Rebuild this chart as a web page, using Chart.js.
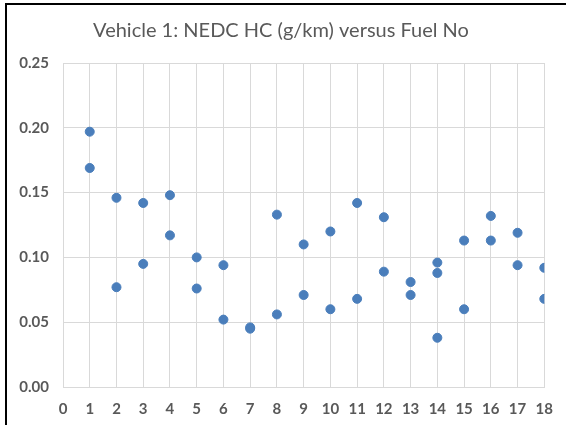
<!DOCTYPE html>
<html>
<head>
<meta charset="utf-8">
<script src="https://cdn.jsdelivr.net/npm/chart.js@4/dist/chart.umd.min.js"></script>
<style>
  html, body { margin: 0; padding: 0; background: #fff; }
  .frame {
    position: absolute; left: 5px; top: 3px; width: 561px; height: 422px;
    border-left: 2px solid #000; border-top: 2px solid #000; box-sizing: border-box;
  }
  .frame canvas { display: block; }
</style>
</head>
<body>
<div class="frame"><canvas id="hc-chart" width="559" height="420"></canvas></div>
<script>
const chartTitle = "Vehicle 1: NEDC HC (g/km) versus Fuel No";
const fuelNo = [1, 1, 2, 2, 3, 3, 4, 4, 5, 5, 6, 6, 7, 7, 8, 8, 9, 9, 10, 10, 11, 11, 12, 12, 13, 13, 14, 14, 14, 15, 15, 16, 16, 17, 17, 18, 18];
const hcGPerKm = [0.197, 0.169, 0.146, 0.077, 0.142, 0.095, 0.148, 0.117, 0.100, 0.076, 0.094, 0.052, 0.046, 0.045, 0.133, 0.056, 0.110, 0.071, 0.120, 0.060, 0.142, 0.068, 0.131, 0.089, 0.081, 0.071, 0.096, 0.088, 0.038, 0.113, 0.060, 0.132, 0.113, 0.119, 0.094, 0.092, 0.068];
const xTicks = [0, 18, 1];
const yTicks = [0, 0.25, 0.05];

const textColor = "#595959";
const gridColor = "#d9d9d9";
const fontFamily = "Lato, 'Open Sans', sans-serif";

const points = fuelNo.map((x, i) => ({ x, y: hcGPerKm[i] }));

new Chart(document.querySelector("#hc-chart"), {
  type: "scatter",
  data: {
    datasets: [
      {
        label: "HC",
        data: points,
        backgroundColor: "#4a7ebb",
        borderColor: "#4a7ebb",
        pointRadius: 4.5,
        pointHoverRadius: 4.5
      }
    ]
  },
  options: {
    responsive: false,
    animation: false,
    layout: { padding: { left: 0, right: 11, top: 0, bottom: 0 } },
    plugins: {
      legend: { display: false },
      tooltip: { enabled: false },
      title: {
        display: true,
        text: chartTitle,
        color: textColor,
        font: { family: fontFamily, size: 20, weight: "normal" },
        padding: { top: 14, bottom: 20 }
      }
    },
    scales: {
      x: {
        type: "linear",
        min: xTicks[0],
        max: xTicks[1],
        afterFit(scale) { scale.height = 38; },
        ticks: {
          stepSize: xTicks[2],
          color: textColor,
          font: { family: fontFamily, size: 15, weight: "bold" },
          padding: 13
        },
        grid: { color: gridColor, drawTicks: false },
        border: { color: gridColor }
      },
      y: {
        min: yTicks[0],
        max: yTicks[1],
        afterFit(scale) { scale.width = 56; },
        ticks: {
          stepSize: yTicks[2],
          color: textColor,
          font: { family: fontFamily, size: 15, weight: "bold" },
          padding: 14,
          callback: (value) => Number(value).toFixed(2)
        },
        grid: { color: gridColor, drawTicks: false },
        border: { display: false }
      }
    }
  }
});
</script>
</body>
</html>
